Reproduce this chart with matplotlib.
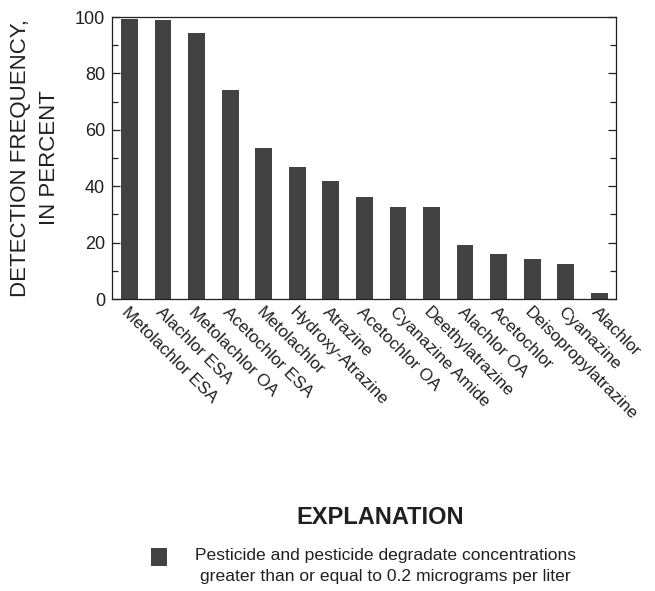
import matplotlib
matplotlib.use("Agg")
import matplotlib.pyplot as plt
from matplotlib.ticker import MultipleLocator
from matplotlib.patches import Rectangle

plt.rcParams['font.family'] = ['Liberation Sans', 'DejaVu Sans']

compounds = ["Metolachlor ESA", "Alachlor ESA", "Metolachlor OA", "Acetochlor ESA",
             "Metolachlor", "Hydroxy-Atrazine", "Atrazine", "Acetochlor OA",
             "Cyanazine Amide", "Deethylatrazine", "Alachlor OA", "Acetochlor",
             "Deisopropylatrazine", "Cyanazine", "Alachlor"]
detection_pct = [99.3, 98.9, 94.3, 74.1, 53.5, 46.8, 41.8, 36.2,
                 32.6, 32.6, 19.1, 16.0, 14.2, 12.4, 2.1]

bar_color = "#424242"
text_color = "#231f20"

fig = plt.figure(figsize=(6.55, 5.91), dpi=100)
ax = fig.add_axes([112 / 655, 1 - 299 / 591, (616 - 112) / 655, (299 - 17) / 591])

x = range(len(compounds))
ax.bar(x, detection_pct, width=0.5, color=bar_color, edgecolor="none")

ax.set_xlim(-0.52, len(compounds) - 0.5)
ax.set_ylim(0, 100)
ax.yaxis.set_major_locator(MultipleLocator(20))
ax.yaxis.set_minor_locator(MultipleLocator(10))
ax.tick_params(axis='y', which='both', direction='in', left=True, right=True,
               labelsize=13, colors=text_color, width=0.9, pad=5)
ax.tick_params(axis='y', which='major', length=6)
ax.tick_params(axis='y', which='minor', length=4)
ax.tick_params(axis='x', length=0, pad=4)
ax.set_xticks(list(x))
ax.set_xticklabels(compounds, rotation=-45, ha='left', va='top',
                   rotation_mode='anchor', fontsize=12.3, color=text_color)
for spine in ax.spines.values():
    spine.set_color(text_color)
    spine.set_linewidth(0.9)

ax.set_ylabel("DETECTION FREQUENCY,\nIN PERCENT", fontsize=16,
              color=text_color, labelpad=11, linespacing=1.45)

# Explanation block
fig.text(380 / 655, 1 - 518 / 591, "EXPLANATION", ha='center', va='center',
         fontsize=17, fontweight='bold', color=text_color)
fig.patches.append(Rectangle((151 / 655, 1 - 566 / 591), 16 / 655, 18 / 591,
                             transform=fig.transFigure, facecolor=bar_color,
                             edgecolor="none"))
fig.text(385.5 / 655, 1 - 566 / 591,
         "Pesticide and pesticide degradate concentrations\n"
         "greater than or equal to 0.2 micrograms per liter",
         ha='center', va='center', fontsize=12.6, color=text_color,
         linespacing=1.45)

fig.savefig("out.png", dpi=100)
